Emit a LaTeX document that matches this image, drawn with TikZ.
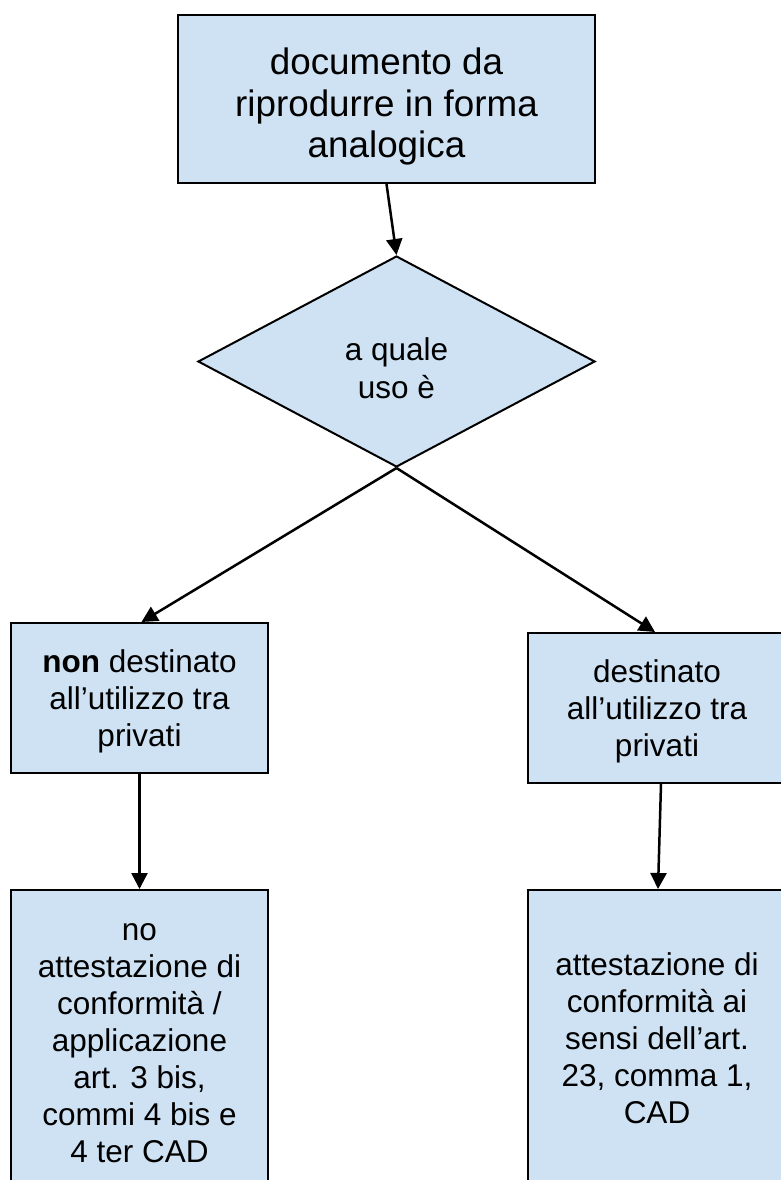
\documentclass[tikz,border=0pt]{standalone}
\usepackage{fontspec}
\setmainfont{Liberation Sans}
\usetikzlibrary{shapes.geometric,arrows.meta,calc}
\definecolor{boxfill}{HTML}{CFE2F3}
\newcommand\lowtext[2]{\raisebox{-#1}[\height][\depth]{\begin{tabular}{@{}c@{}}#2\end{tabular}}}
\begin{document}
\begin{tikzpicture}[x=1pt,y=-1pt,
  box/.style={draw=black,line width=2pt,fill=boxfill,align=center,inner sep=0pt,
    font=\fontsize{31.5}{37}\selectfont},
  decision/.style={diamond,draw=black,line width=2pt,fill=boxfill,align=center,inner sep=0pt,
    font=\fontsize{31.5}{38}\selectfont},
  conn/.style={line width=2.5pt,-{Triangle[length=16pt,width=16pt]}}]
\useasboundingbox (0,0) rectangle (781,1180);
\clip (0,0) rectangle (781,1180);
\node[box,minimum width=417pt,minimum height=168pt,font=\fontsize{36.8}{41.5}\selectfont] (top) at (386.5,99)
  {\lowtext{9pt}{documento da\\riprodurre in forma\\analogica}};
\node[decision,minimum width=397pt,minimum height=211pt] (dec) at (396.5,361.5)
  {\lowtext{10pt}{a quale\\uso è}};
\node[box,minimum width=257pt,minimum height=150pt] (lb) at (139.5,698)
  {\lowtext{4pt}{\textbf{non} destinato\\all’utilizzo tra\\privati}};
\node[box,minimum width=258pt,minimum height=150pt] (rb) at (657,708)
  {\lowtext{4pt}{destinato\\all’utilizzo tra\\privati}};
\node[box,minimum width=257pt,minimum height=302pt] (lbb) at (139.5,1041)
  {\lowtext{3pt}{no\\attestazione di\\conformità /\\applicazione\\art. 3 bis,\\commi 4 bis e\\4 ter CAD}};
\node[box,minimum width=258pt,minimum height=302pt] (rbb) at (657,1041)
  {\lowtext{1.5pt}{attestazione di\\conformità ai\\sensi dell’art.\\23, comma 1,\\CAD}};
\draw[conn] (top.south) -- (dec.north);
\draw[conn] (dec.south) -- ($(lb.north)+(2,0)$);
\draw[conn] (dec.south) -- ($(rb.north)+(-2,0)$);
\draw[conn] (lb.south) -- (lbb.north);
\draw[conn] ($(rb.south)+(4,0)$) -- ($(rbb.north)+(1,0)$);
\end{tikzpicture}
\end{document}
